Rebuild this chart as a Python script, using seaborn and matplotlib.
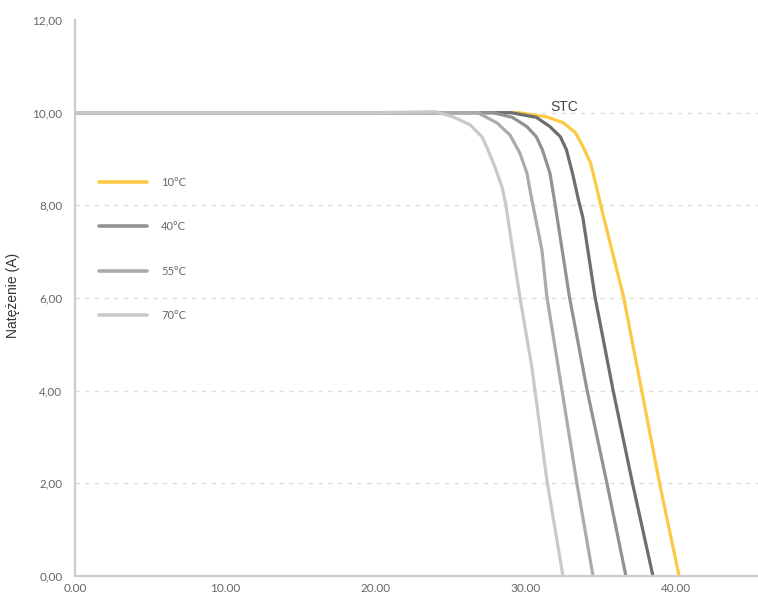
import matplotlib
matplotlib.use("Agg")
import matplotlib.pyplot as plt
import seaborn as sns
import pandas as pd
from matplotlib.ticker import FuncFormatter

# ---- data (voltage V, current A) ----
v_10 = [0, 20.0, 29.5, 31.4, 32.5, 33.3, 33.8, 34.3, 34.7, 35.06, 36.5, 37.7, 38.9, 40.2]
i_10 = [10.0, 10.0, 10.0, 9.91, 9.78, 9.57, 9.27, 8.92, 8.40, 7.90, 6.03, 4.02, 2.0, 0.0]

v_stc = [0, 20.0, 29.0, 30.7, 31.6, 32.3, 32.7, 33.1, 33.5, 33.8, 34.6, 35.8, 37.1, 38.46]
i_stc = [10.0, 10.0, 10.0, 9.90, 9.70, 9.48, 9.20, 8.70, 8.12, 7.73, 6.03, 4.02, 2.0, 0.0]

v_40 = [0, 20.0, 27.8, 29.1, 30.07, 30.7, 31.1, 31.6, 31.9, 32.9, 34.07, 35.4, 36.66]
i_40 = [10.0, 10.0, 10.0, 9.90, 9.70, 9.48, 9.20, 8.70, 8.12, 6.03, 4.02, 2.0, 0.0]

v_55 = [0, 20.0, 26.8, 28.08, 28.94, 29.6, 30.07, 30.4, 31.07, 31.4, 32.4, 33.4, 34.47]
i_55 = [10.0, 10.0, 10.0, 9.78, 9.52, 9.13, 8.70, 8.12, 7.04, 6.03, 4.02, 2.0, 0.0]

v_70 = [0, 20.0, 24.0, 25.15, 26.28, 27.08, 27.48, 27.94, 28.41, 28.65, 29.6, 30.4, 31.4, 32.47]
i_70 = [10.0, 10.0, 10.02, 9.91, 9.74, 9.48, 9.20, 8.83, 8.40, 8.05, 6.03, 4.51, 2.07, 0.0]

labels = ["10°C", "_nolegend_", "40°C", "55°C", "70°C"]
colors = ["#fbc943", "#6d6e71", "#909295", "#a9abad", "#c9c9c9"]
series = [(v_10, i_10), (v_stc, i_stc), (v_40, i_40), (v_55, i_55), (v_70, i_70)]

x_ticks = [0, 10, 20, 30, 40]
y_ticks = [0, 2, 4, 6, 8, 10, 12]

sns.set_theme(style="white")
plt.rcParams["font.family"] = ["Lato", "DejaVu Sans"]

fig = plt.figure(figsize=(7.58, 5.94), dpi=100)
ax = fig.add_axes([75 / 758, 18 / 594, 683 / 758, 556 / 594])

for (v, i), lab, col in zip(series, labels, colors):
    df = pd.DataFrame({"V": v, "I": i})
    sns.lineplot(data=df, x="V", y="I", ax=ax, color=col, lw=2.3, label=lab,
                 sort=False, estimator=None, solid_capstyle="round",
                 solid_joinstyle="round")

ax.set_xlim(0, 45.45)
ax.set_ylim(0, 12)
ax.set_xticks(x_ticks)
ax.set_yticks(y_ticks)
ax.xaxis.set_major_formatter(FuncFormatter(lambda x, p: f"{x:.2f}"))
ax.yaxis.set_major_formatter(FuncFormatter(lambda y, p: f"{y:.2f}".replace(".", ",")))
ax.tick_params(axis="both", length=0, labelsize=8.5, labelcolor="#666666")
ax.tick_params(axis="y", pad=9)
ax.tick_params(axis="x", pad=5)

for y in [2, 4, 6, 8, 10]:
    ax.axhline(y, color="#dddddd", lw=1.0, ls=(0, (3, 4)), zorder=0)

for s in ["top", "right"]:
    ax.spines[s].set_visible(False)
for s in ["left", "bottom"]:
    ax.spines[s].set_color("#cfcbc5")
    ax.spines[s].set_linewidth(1.6)

ax.set_xlabel("")
ax.set_ylabel("")
fig.text(13 / 758, (594 - 295) / 594, "Natężenie (A)", rotation=90,
         ha="center", va="center", fontsize=10, color="#333333",
         family=["Liberation Sans", "DejaVu Sans"])

ax.text(31.65, 10.12, "STC", ha="left", va="center", fontsize=10, color="#444444",
        family=["Liberation Sans", "DejaVu Sans"])

leg = ax.legend(loc="upper left", bbox_to_anchor=(99 / 758, (594 - 177) / 594),
                bbox_transform=fig.transFigure, frameon=False, fontsize=8,
                handlelength=4.3, handletextpad=1.3, labelspacing=3.0,
                borderpad=0, borderaxespad=0)
for t in leg.get_texts():
    t.set_color("#666666")
for h in leg.get_lines():
    h.set_linewidth(2.6)

fig.savefig("out.png", dpi=100)
